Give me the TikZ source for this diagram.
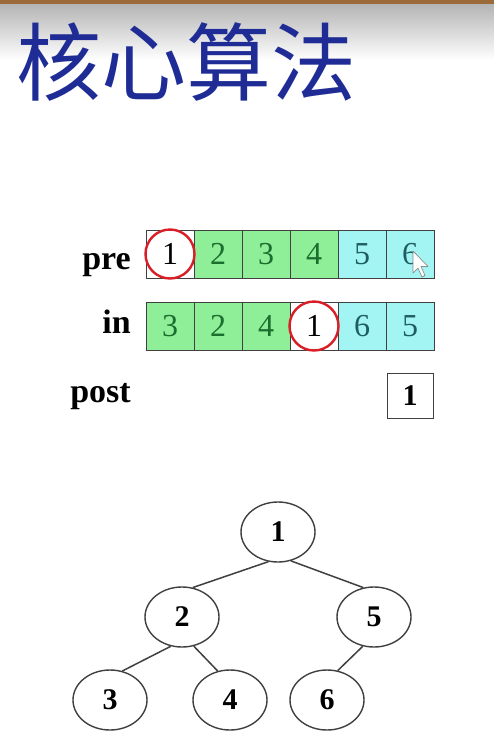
\documentclass[tikz,border=0pt]{standalone}
\usepackage{fontspec}
\setmainfont{Liberation Serif}
\newfontfamily\cjk{Noto Sans CJK SC}
\usetikzlibrary{shapes.geometric}
\definecolor{titleblue}{HTML}{1F2C96}
\definecolor{cellgreen}{HTML}{8FEF98}
\definecolor{cellcyan}{HTML}{A3F5F3}
\definecolor{digitgreen}{HTML}{1B6E2E}
\definecolor{digitteal}{HTML}{1E5E62}
\definecolor{ringred}{HTML}{D81E26}
\definecolor{barbrown}{HTML}{9A6A3A}
\tikzset{
  cell/.style={draw=black!75, line width=0.9pt, minimum width=48pt, minimum height=48pt,
    inner sep=0pt, font=\fontsize{32}{32}\selectfont},
  gcell/.style={cell, fill=cellgreen, text=digitgreen},
  ccell/.style={cell, fill=cellcyan, text=digitteal},
  wcell/.style={cell, fill=white, text=black},
  ring/.style={draw=ringred, line width=2.4pt, circle, minimum size=49pt, inner sep=0pt},
  rowlabel/.style={anchor=base east, inner sep=0pt, font=\bfseries\fontsize{34}{34}\selectfont},
  tnode/.style={ellipse, draw=black!75, line width=1.4pt, minimum width=74pt, minimum height=60pt,
    inner sep=0pt, font=\bfseries\fontsize{30}{30}\selectfont},
  tedge/.style={draw=black!75, line width=1.5pt}
}
\begin{document}
\begin{tikzpicture}[x=1pt, y=-1pt]
\useasboundingbox (0,0) rectangle (494,750);
\fill[white] (0,0) rectangle (494,750);
% header band
\shade[top color=black!30, bottom color=white] (0,3) rectangle (494,60);
\fill[barbrown] (0,0) rectangle (494,3.5);
\node[anchor=west, inner sep=0pt, text=titleblue, font=\cjk\fontsize{85}{85}\selectfont] (title) at (16,62) {核心算法};

% pre-order row
\node[rowlabel] (prelab) at (131,269) {pre};
\node[wcell] (p1) at (170,254) {1};
\node[gcell] (p2) at (218,254) {2};
\node[gcell] (p3) at (266,254) {3};
\node[gcell] (p4) at (314,254) {4};
\node[ccell] (p5) at (362,254) {5};
\node[ccell] (p6) at (410,254) {6};
\node[ring] (pr) at (p1) {};

% in-order row
\node[rowlabel] (inlab) at (131,333) {in};
\node[gcell] (i1) at (170,326) {3};
\node[gcell] (i2) at (218,326) {2};
\node[gcell] (i3) at (266,326) {4};
\node[wcell] (i4) at (314,326) {1};
\node[ccell] (i5) at (362,326) {6};
\node[ccell] (i6) at (410,326) {5};
\node[ring] (ir) at (i4) {};

% post-order row
\node[rowlabel] (postlab) at (131,402) {post};
\node[draw=black!75, line width=1pt, minimum width=46pt, minimum height=45pt, inner sep=0pt,
  font=\bfseries\fontsize{30}{30}\selectfont] (q1) at (410,396) {1};

% mouse pointer
\draw[fill=white, draw=black!45, line width=0.7pt, line join=round]
  (413,251) -- (413,273) -- (418,268) -- (422,277) -- (425,275.5) -- (421,266.5) -- (428,266.5) -- cycle;

% tree
\node[tnode] (n1) at (278,532) {1};
\node[tnode] (n2) at (182,617) {2};
\node[tnode] (n5) at (374,617) {5};
\node[tnode] (n3) at (110,700) {3};
\node[tnode] (n4) at (230,700) {4};
\node[tnode] (n6) at (327,700) {6};
\draw[tedge] (n1.252) -- (n2.70);
\draw[tedge] (n1.294) -- (n5.110);
\draw[tedge] (n2.249) -- (n3.67);
\draw[tedge] (n2.292) -- (n4.113);
\draw[tedge] (n5.249) -- (n6.70);
\end{tikzpicture}
\end{document}
